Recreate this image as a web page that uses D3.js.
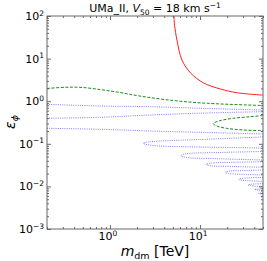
<!DOCTYPE html>
<html>
<head>
<meta charset="utf-8">
<script src="https://cdn.jsdelivr.net/npm/d3@7"></script>
<style>
body { margin: 0; background: #fff; }
text { font-family: "DejaVu Sans", sans-serif; fill: #000; }
</style>
</head>
<body>
<div id="chart-area"></div>
<script>
// values, [m_dm (TeV), eps_phi]
const redLine = [[5.13, 100], [5.22, 60], [5.54, 27.3], [6.3, 9.27], [7.86, 4.59], [11.0, 2.67], [16.9, 1.93], [25.7, 1.58], [50, 1.39]];

const greenUpper = [[0.2, 1.99], [0.317, 2.12], [0.465, 2.12], [0.774, 1.88], [1.29, 1.60], [2.15, 1.32], [5.0, 1.04], [11.9, 0.894], [50, 0.792]];
const greenLoop = [[50, 0.461], [35.8, 0.432], [23.4, 0.397], [16.6, 0.348], [14.0, 0.300], [15.3, 0.262], [19.7, 0.231], [30.2, 0.211], [50, 0.203]];

const blueTop = [[0.2, 0.845], [0.774, 0.771], [2.78, 0.743], [11.6, 0.675], [50, 0.621]];
const blueLobes = [
    [[0.2, 0.397], [0.774, 0.419], [2.78, 0.474], [11.6, 0.528], [50, 0.567]],
    [[0.2, 0.231], [0.774, 0.219], [2.78, 0.200], [11.6, 0.184], [50, 0.170]],
    [[50, 0.145], [10, 0.126], [3.6, 0.116], [2.64, 0.110], [2.34, 0.103], [2.64, 0.0948], [3.6, 0.0887], [10, 0.0841], [50, 0.0796]],
    [[50, 0.0659], [16.6, 0.0625], [6.97, 0.0582], [6.14, 0.0531], [6.97, 0.0482], [16.6, 0.0445], [50, 0.0417]],
    [[50, 0.0380], [24.4, 0.0368], [13.2, 0.0351], [11.6, 0.0327], [13.2, 0.0305], [24.4, 0.0292], [50, 0.0281]],
    [[50, 0.0243], [32.3, 0.0236], [20.9, 0.0228], [18.9, 0.0214], [20.9, 0.0201], [32.3, 0.0191], [50, 0.0185]],
    [[50, 0.0163], [29.2, 0.0154], [27.0, 0.0147], [29.2, 0.0140], [50, 0.0131]],
    [[50, 0.0116], [36.2, 0.0112], [34.0, 0.0108], [36.2, 0.0104], [50, 0.00989]],
    [[50, 0.00887], [43.9, 0.00869], [40.2, 0.00845], [43.9, 0.00818], [50, 0.00796]],
    [[50, 0.00708], [44.5, 0.00689], [50, 0.00653]],
    [[50, 0.00579], [47.4, 0.00570], [50, 0.00546]]
];

const xMajor = [1, 10];
const xMinor = [0.2, 0.3, 0.4, 0.5, 0.6, 0.7, 0.8, 0.9, 2, 3, 4, 5, 6, 7, 8, 9, 20, 30, 40, 50];
const yMajor = [1e-3, 1e-2, 1e-1, 1, 10, 100];
const yMinor = [];
[1e-3, 1e-2, 1e-1, 1, 10].forEach((d) => { for (let k = 2; k < 10; k++) yMinor.push(d * k); });

const width = 267, height = 261;
const plotLeft = 47, plotRight = 263, plotTop = 16, plotBottom = 229;

let svg = d3.select('#chart-area').append('svg').attr('width', width).attr('height', height);

let x = d3.scaleLog().domain([0.2, 50]).range([plotLeft, plotRight]);
let y = d3.scaleLog().domain([1e-3, 1e2]).range([plotBottom, plotTop]);

svg.append('clipPath').attr('id', 'clip')
    .append('rect').attr('x', plotLeft).attr('y', plotTop).attr('width', plotRight - plotLeft).attr('height', plotBottom - plotTop);

let plot = svg.append('g').attr('clip-path', 'url(#clip)');

let line = d3.line()
    .x((d) => { return x(d[0]); })
    .y((d) => { return y(d[1]); })
    .curve(d3.curveCatmullRom.alpha(0.5));

plot.selectAll('path.blue').data([blueTop].concat(blueLobes)).enter().append('path')
    .attr('class', 'blue')
    .attr('d', line)
    .attr('fill', 'none')
    .attr('stroke', '#3a3aff')
    .attr('stroke-opacity', 0.75)
    .attr('stroke-width', 0.9)
    .attr('stroke-dasharray', '1,1.2');

plot.selectAll('path.green').data([greenUpper, greenLoop]).enter().append('path')
    .attr('class', 'green')
    .attr('d', line)
    .attr('fill', 'none')
    .attr('stroke', '#1a8c1a')
    .attr('stroke-width', 1)
    .attr('stroke-dasharray', '3,1.6');

plot.append('path').datum(redLine)
    .attr('d', line)
    .attr('fill', 'none')
    .attr('stroke', '#ff2020')
    .attr('stroke-width', 1);

// axes, ticks pointing inward on all four sides
function drawTicks(axis, ticks, size, transform) {
    svg.append('g').attr('transform', transform)
        .call(axis.tickValues(ticks).tickSize(size).tickFormat(''))
        .call((g) => { g.select('.domain').remove(); })
        .selectAll('line').attr('stroke', '#444').attr('stroke-width', 0.8);
}
drawTicks(d3.axisBottom(x), xMajor, -4, `translate(0,${plotBottom})`);
drawTicks(d3.axisBottom(x), xMinor, -2, `translate(0,${plotBottom})`);
drawTicks(d3.axisTop(x), xMajor, -4, `translate(0,${plotTop})`);
drawTicks(d3.axisTop(x), xMinor, -2, `translate(0,${plotTop})`);
drawTicks(d3.axisLeft(y), yMajor, -4, `translate(${plotLeft},0)`);
drawTicks(d3.axisLeft(y), yMinor, -2, `translate(${plotLeft},0)`);
drawTicks(d3.axisRight(y), yMajor, -4, `translate(${plotRight},0)`);
drawTicks(d3.axisRight(y), yMinor, -2, `translate(${plotRight},0)`);

svg.append('rect')
    .attr('x', plotLeft).attr('y', plotTop).attr('width', plotRight - plotLeft).attr('height', plotBottom - plotTop)
    .attr('fill', 'none').attr('stroke', '#666').attr('stroke-width', 1);

function expOf(v) { return Math.round(Math.log10(v)).toString().replace('-', '\u2212'); }

let xl = svg.selectAll('text.xt').data(xMajor).enter().append('text')
    .attr('class', 'xt')
    .attr('x', (d) => { return x(d) - 2; })
    .attr('y', 240)
    .attr('text-anchor', 'middle')
    .style('font-size', '11px');
xl.append('tspan').text('10');
xl.append('tspan').attr('dy', -4.5).style('font-size', '7.5px').text((d) => { return expOf(d); });

let yl = svg.selectAll('text.yt').data(yMajor).enter().append('text')
    .attr('class', 'yt')
    .attr('x', 44)
    .attr('y', (d) => { return y(d) + 4; })
    .attr('text-anchor', 'end')
    .style('font-size', '11px');
yl.append('tspan').text('10');
yl.append('tspan').attr('dy', -4.5).style('font-size', '7.5px').text((d) => { return expOf(d); });

// title
let title = svg.append('text').attr('x', (plotLeft + plotRight) / 2).attr('y', 12)
    .attr('text-anchor', 'middle').style('font-size', '11px');
title.append('tspan').text('UMa_II, ');
title.append('tspan').style('font-style', 'italic').text('V');
title.append('tspan').attr('dy', 2.5).style('font-size', '7.5px').text('50');
title.append('tspan').attr('dy', -2.5).text(' = 18 km s');
title.append('tspan').attr('dy', -4.5).style('font-size', '7.5px').text('\u22121');

// axis labels
let xlab = svg.append('text').attr('x', (plotLeft + plotRight) / 2).attr('y', 256)
    .attr('text-anchor', 'middle').style('font-size', '14px');
xlab.append('tspan').style('font-style', 'italic').text('m');
xlab.append('tspan').attr('dy', 3).style('font-size', '9.5px').text('dm');
xlab.append('tspan').attr('dy', -3).text(' [TeV]');

let ylab = svg.append('text').attr('transform', 'translate(15,122) rotate(-90)')
    .attr('text-anchor', 'middle').style('font-size', '14px');
ylab.append('tspan').style('font-style', 'italic').text('\u03b5');
ylab.append('tspan').attr('dy', 3).style('font-size', '9.5px').style('font-style', 'italic').text('\u03d5');
</script>
</body>
</html>
